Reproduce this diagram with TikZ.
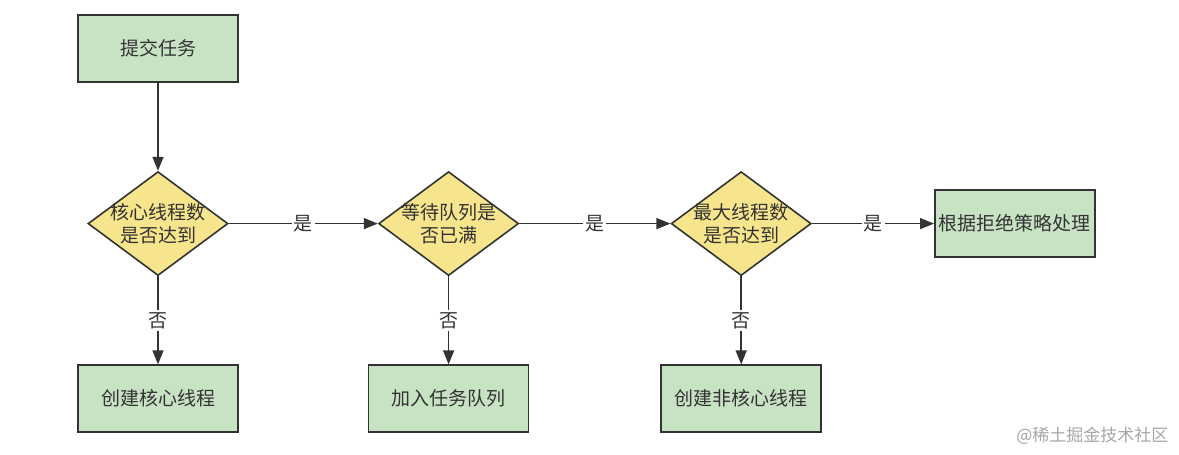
\documentclass[tikz,border=0pt]{standalone}
\usepackage{fontspec}
\setmainfont{Noto Sans CJK SC}
\usetikzlibrary{positioning,shapes.geometric,arrows.meta}

\definecolor{boxgreen}{RGB}{200,227,196}
\definecolor{diayellow}{RGB}{247,229,142}
\definecolor{ink}{RGB}{51,51,51}

\begin{document}
\begin{tikzpicture}[
    font=\fontsize{19pt}{23pt}\selectfont,
    task/.style={rectangle, draw=ink, line width=1.6pt, fill=boxgreen, text=ink,
                 minimum width=160pt, minimum height=67pt},
    check/.style={diamond, draw=ink, line width=1.6pt, fill=diayellow, text=ink,
                  align=center, inner sep=-12pt, minimum width=140pt, minimum height=104pt},
    flow/.style={draw=ink, line width=1.5pt, -{Triangle[length=14pt,width=11pt]}},
    answer/.style={fill=white, text=ink, inner sep=2pt}
  ]
  \useasboundingbox (0,0) rectangle (1179pt,-455pt);

  \node[task] (submit) at (158pt,-48.5pt) {提交任务};
  \node[check, below=88pt of submit] (core) {核心线程数\\是否达到};
  \node[check, right=149pt of core] (queue) {等待队列是\\否已满};
  \node[check, right=151pt of queue] (maxthr) {最大线程数\\是否达到};
  \node[task, right=122pt of maxthr] (reject) {根据拒绝策略处理};

  \node[task, below=88pt of core] (newcore) {创建核心线程};
  \node[task, below=88pt of queue] (enqueue) {加入任务队列};
  \node[task, below=88pt of maxthr] (newnoncore) {创建非核心线程};

  % main path
  \draw[flow] (submit) -- (core);
  \draw[flow] (core) -- node[answer] {是} (queue);
  \draw[flow] (queue) -- node[answer] {是} (maxthr);
  \draw[flow] (maxthr) -- node[answer] {是} (reject);

  % branches
  \draw[flow] (core) -- node[answer] {否} (newcore);
  \draw[flow] (queue) -- node[answer] {否} (enqueue);
  \draw[flow] (maxthr) -- node[answer] {否} (newnoncore);

  \node[anchor=east, text=black!35, font=\fontsize{17pt}{20pt}\selectfont] (mark) at (1172pt,-436pt) {@稀土掘金技术社区};
\end{tikzpicture}
\end{document}
